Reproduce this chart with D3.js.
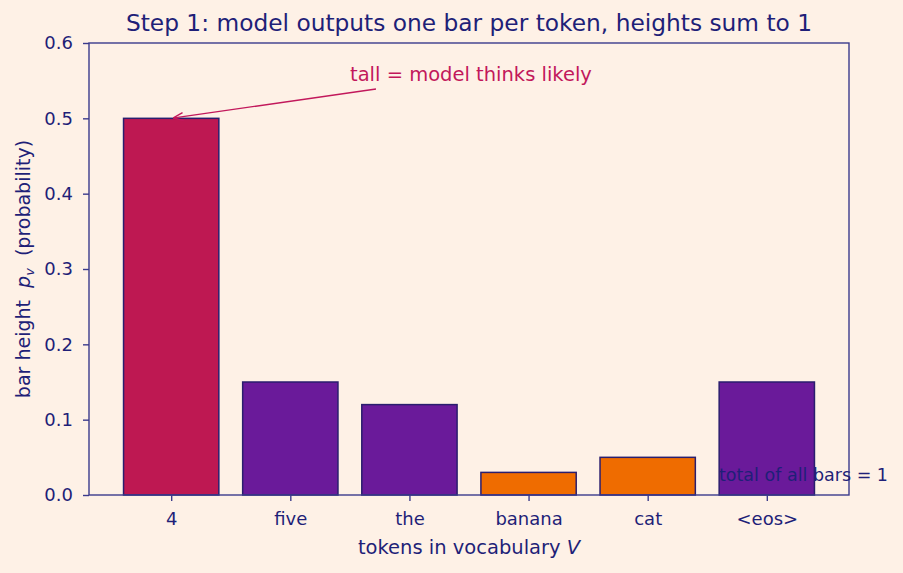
<!DOCTYPE html>
<html><head><meta charset="utf-8">
<script src="https://cdn.jsdelivr.net/npm/d3@7"></script>
<style>body{margin:0;background:#fef1e6;}svg{display:block;font-family:"DejaVu Sans",sans-serif;}</style>
</head><body><svg id="c" width="903" height="573"></svg>
<script>
const tokens = ["4","five","the","banana","cat","<eos>"];
const probs = [0.5,0.15,0.12,0.03,0.05,0.15];
const barColors = ["#be1852","#6a1a9a","#6a1a9a","#ef6c00","#ef6c00","#6a1a9a"];
const yTicks = [0,0.1,0.2,0.3,0.4,0.5,0.6];

const navy = "#1f1f78", spine = "#3b3b8c", crimson = "#c2185b";
const svg = d3.select("#c");
const m = {l:89, r:849, t:43, b:495};
svg.append("rect").attr("width",903).attr("height",573).attr("fill","#fef1e6");

const x = d3.scaleLinear().domain([-0.69,5.69]).range([m.l,m.r]);
const y = d3.scaleLinear().domain([0,0.6]).range([m.b,m.t]);

svg.selectAll("rect.bar").data(probs).enter().append("rect").attr("class","bar")
  .attr("x",(d,i)=>x(i-0.4)).attr("width",x(0.4)-x(-0.4))
  .attr("y",d=>y(d)).attr("height",d=>y(0)-y(d))
  .attr("fill",(d,i)=>barColors[i]).attr("stroke","#2a1e6e").attr("stroke-width",1.5);

// frame
svg.append("rect").attr("x",m.l).attr("y",m.t).attr("width",m.r-m.l).attr("height",m.b-m.t)
  .attr("fill","none").attr("stroke",spine).attr("stroke-width",1.4);

const yAx = svg.append("g").attr("transform",`translate(${m.l},0)`)
  .call(d3.axisLeft(y).tickValues(yTicks).tickFormat(d3.format(".1f")).tickSize(6).tickPadding(10));
const xAx = svg.append("g").attr("transform",`translate(0,${m.b})`)
  .call(d3.axisBottom(x).tickValues(d3.range(tokens.length)).tickFormat(i=>tokens[i]).tickSize(6).tickPadding(6));
[yAx,xAx].forEach(g=>{
  g.select(".domain").remove();
  g.selectAll("line").attr("stroke",spine).attr("stroke-width",1.4);
  g.selectAll("text").attr("fill",navy).style("font-size","18px").style("font-family","DejaVu Sans");
});
xAx.selectAll("text").attr("dy",null).attr("y",30);

svg.append("text").attr("x",(m.l+m.r)/2).attr("y",31).attr("text-anchor","middle")
  .attr("fill",navy).style("font-size","23.3px").text("Step 1: model outputs one bar per token, heights sum to 1");

const xl = svg.append("text").attr("x",(m.l+m.r)/2).attr("y",554).attr("text-anchor","middle")
  .attr("fill",navy).style("font-size","19.5px");
xl.append("tspan").text("tokens in vocabulary ");
xl.append("tspan").attr("font-style","italic").text("V");

const yl = svg.append("text").attr("transform",`translate(30,${(m.t+m.b)/2}) rotate(-90)`)
  .attr("text-anchor","middle").attr("fill",navy).style("font-size","19px");
yl.append("tspan").text("bar height\u00a0\u00a0");
yl.append("tspan").attr("font-style","italic").text("p");
yl.append("tspan").attr("font-style","italic").attr("dy",4).style("font-size","13px").text("v");
yl.append("tspan").attr("dy",-4).text("\u00a0\u00a0(probability)");

// annotation
svg.append("defs").append("marker").attr("id","ah").attr("viewBox","0 0 10 10").attr("refX",9).attr("refY",5)
  .attr("markerWidth",10).attr("markerHeight",10).attr("orient","auto-start-reverse").attr("markerUnits","userSpaceOnUse")
  .append("path").attr("d","M0,1 L10,5 L0,9").attr("fill","none").attr("stroke",crimson).attr("stroke-width",1.4);
svg.append("line").attr("x1",376).attr("y1",89).attr("x2",x(0)+3).attr("y2",y(0.5)-0.5).attr("stroke",crimson)
  .attr("stroke-width",1.4).attr("marker-end","url(#ah)");
svg.append("text").attr("x",350).attr("y",81).attr("text-anchor","start").attr("fill",crimson)
  .style("font-size","19.5px").text("tall = model thinks likely");

svg.append("text").attr("x",888).attr("y",481).attr("text-anchor","end").attr("fill",navy)
  .style("font-size","17.5px").text("total of all bars = 1");
</script></body></html>
